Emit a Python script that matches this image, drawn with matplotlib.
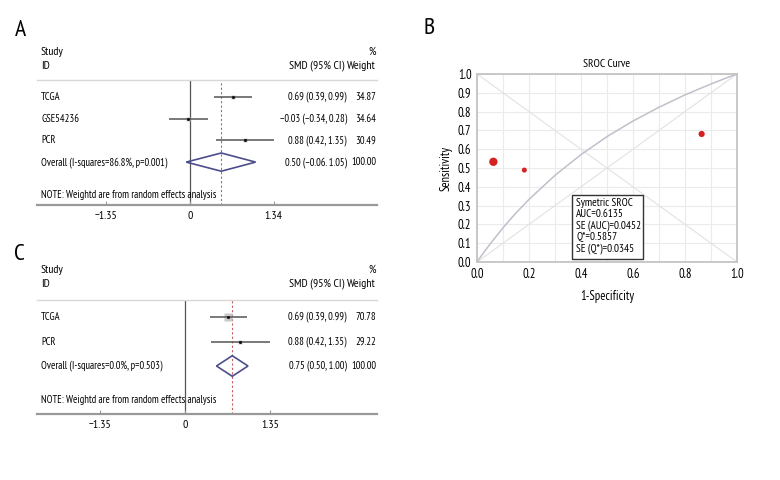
import numpy as np
import matplotlib
matplotlib.use("Agg")
import matplotlib.pyplot as plt
import matplotlib.transforms as mtransforms
from matplotlib.patches import Polygon, Rectangle

plt.rcParams['font.family'] = ['PT Sans Narrow', 'DejaVu Sans']

W, H = 780, 480

# panel A
a_studies = ["TCGA", "GSE54236", "PCR"]
a_smd = [0.69, -0.03, 0.88]
a_low = [0.39, -0.34, 0.42]
a_high = [0.99, 0.28, 1.35]
a_weight = [34.87, 34.64, 30.49]
a_overall = [0.50, -0.06, 1.05]
a_overall_label = "Overall (I-squares=86.8%, p=0.001)"
a_overall_text = "0.50 (\u22120.06. 1.05)"
a_ticks = [-1.35, 0, 1.34]

# panel C
c_studies = ["TCGA", "PCR"]
c_smd = [0.69, 0.88]
c_low = [0.39, 0.42]
c_high = [0.99, 1.35]
c_weight = [70.78, 29.22]
c_overall = [0.75, 0.50, 1.00]
c_overall_label = "Overall (I-squares=0.0%, p=0.503)"
c_overall_text = "0.75 (0.50, 1.00)"
c_ticks = [-1.35, 0, 1.35]

note = "NOTE: Weightd are from random effects analysis"

# panel B
sroc_fpr = [0.0, 0.005, 0.01, 0.02, 0.05, 0.1, 0.15, 0.2, 0.3, 0.4, 0.5, 0.6, 0.7, 0.8, 0.9, 0.95, 1.0]
sroc_sens = [0.0, 0.010, 0.020, 0.039, 0.095, 0.182, 0.261, 0.333, 0.461, 0.571, 0.667, 0.750, 0.823, 0.889, 0.947, 0.974, 1.0]
study_fpr = [0.063, 0.182, 0.864]
study_sens = [0.533, 0.489, 0.681]
study_size = [36, 13, 20]
sroc_stats = ["Symetric SROC", "AUC=0.6135", "SE (AUC)=0.0452", "Q*=0.5857", "SE (Q*)=0.0345"]

fig = plt.figure(figsize=(W / 100, H / 100), dpi=100)


def fx(px):
    return px / W


def fy(py):
    return 1 - py / H


def axes_px(l, t, r, b):
    return fig.add_axes([l / W, 1 - b / H, (r - l) / W, (b - t) / H])


def fmt(v):
    return f"{v:.2f}".replace("-", "\u2212")


def forest(top, bottom, zero, scale, first_row, step, studies, smd, low, high, weight,
           overall, overall_label, overall_text, ticks, note_px, head_top):
    left, right = 37, 377
    ax = axes_px(left, top, right, bottom)
    ax.set_xlim((left - zero) / scale, (right - zero) / scale)
    n = len(studies)
    ax.set_ylim(1 + (bottom - first_row) / step, 1 - (first_row - top) / step)
    rows = np.arange(1, n + 1)
    ax.hlines(rows, low, high, color='#555555', lw=1.1, zorder=3)
    for x, y, w in zip(smd, rows, weight):
        ax.plot(x, y, 's', color='#c8c8c8', ms=0.6 * np.sqrt(w), mec='none', zorder=2)
    ax.plot(smd, rows, 'o', color='#111111', ms=2.2, mec='none', zorder=4)
    yo = n + 1
    dh = 0.42
    est, lo, hi = overall
    ax.add_patch(Polygon([(lo, yo), (est, yo - dh), (hi, yo), (est, yo + dh)],
                         closed=True, fill=False, ec='#4d4d8c', lw=1.2, zorder=4))
    ax.axvline(0, color='#555555', lw=0.9, zorder=1)
    ax.axvline(est, color='#c06060', lw=0.8, ls=(0, (2, 2)), zorder=1)

    for s in ['left', 'right']:
        ax.spines[s].set_visible(False)
    ax.spines['top'].set_color('#d8d8d8')
    ax.spines['top'].set_linewidth(1.0)
    ax.spines['bottom'].set_color('#999999')
    ax.spines['bottom'].set_linewidth(1.6)
    ax.set_yticks([])
    ax.set_xticks(ticks)
    ax.set_xticklabels([fmt(t) if t != 0 else "0" for t in ticks])
    ax.tick_params(axis='x', direction='in', length=3, color='#999999', labelsize=8.5, pad=4)
    ax.patch.set_alpha(0)

    tr = mtransforms.blended_transform_factory(fig.transFigure, ax.transData)
    fs = 7.6
    for i, name in enumerate(studies):
        y = i + 1
        ax.text(fx(41), y, name, transform=tr, fontsize=fs, va='center', ha='left')
        ax.text(fx(347), y, f"{fmt(smd[i])} ({fmt(low[i])}, {fmt(high[i])})",
                transform=tr, fontsize=fs, va='center', ha='right')
        ax.text(fx(376), y, f"{weight[i]:.2f}", transform=tr, fontsize=fs, va='center', ha='right')
    ax.text(fx(41), yo, overall_label, transform=tr, fontsize=fs, va='center', ha='left')
    ax.text(fx(347), yo, overall_text, transform=tr, fontsize=fs, va='center', ha='right')
    ax.text(fx(376), yo, "100.00", transform=tr, fontsize=fs, va='center', ha='right')
    fig.text(fx(41), fy(note_px), note, fontsize=fs, va='center', ha='left')

    fs_h = 8.5
    fig.text(fx(41), fy(head_top), "Study", fontsize=fs_h, va='center', ha='left')
    fig.text(fx(41), fy(head_top + 14), "ID", fontsize=fs_h, va='center', ha='left')
    fig.text(fx(376), fy(head_top), "%", fontsize=fs_h, va='center', ha='right')
    fig.text(fx(344), fy(head_top + 14), "SMD (95% CI)", fontsize=fs_h, va='center', ha='right')
    fig.text(fx(376), fy(head_top + 14), "Weight", fontsize=fs_h, va='center', ha='right')
    return ax


forest(80, 205, 190, 62.5, 97, 21.7, a_studies, a_smd, a_low, a_high, a_weight,
       a_overall, a_overall_label, a_overall_text, a_ticks, 195, 52)
forest(300, 414, 185, 63.0, 317, 24.5, c_studies, c_smd, c_low, c_high, c_weight,
       c_overall, c_overall_label, c_overall_text, c_ticks, 400, 270)

# panel B
ax = axes_px(477, 74, 737, 262)
ax.set_xlim(0, 1)
ax.set_ylim(0, 1)
ax.set_xticks(np.arange(0, 1.01, 0.2))
ax.set_xticks(np.arange(0, 1.01, 0.1), minor=True)
ax.set_yticks(np.arange(0, 1.01, 0.1))
ax.grid(True, which='both', color='#ebebeb', lw=0.8)
ax.set_axisbelow(True)
ax.plot([0, 1], [1, 0], color='#e2e2e2', lw=0.8)
ax.plot([0, 1], [0, 1], color='#e2e2e2', lw=0.8)
ax.plot(sroc_fpr, sroc_sens, color='#c0c0cc', lw=1.1)
ax.scatter(study_fpr, study_sens, s=study_size, color='#d42222', edgecolors='none', zorder=5)
ax.xaxis.set_major_formatter(matplotlib.ticker.FormatStrFormatter('%.1f'))
ax.yaxis.set_major_formatter(matplotlib.ticker.FormatStrFormatter('%.1f'))
ax.tick_params(which='both', length=0, labelsize=9, pad=4)
for s in ax.spines.values():
    s.set_color('#c4c4c4')
    s.set_linewidth(1.3)
ax.set_title("SROC Curve", fontsize=8.5, pad=5)
ax.set_xlabel("1-Specificity", fontsize=9, labelpad=7)
ax.set_ylabel("Sensitivity", fontsize=9, labelpad=4)
ax.add_patch(Rectangle((0.364, 0.016), 0.273, 0.340, fill=True, fc='white',
                       ec='#333333', lw=1.0, zorder=6))
ax.text(0.381, 0.338, "\n".join(sroc_stats), fontsize=8, va='top', ha='left',
        linespacing=1.12, zorder=7)

fig.text(fx(20.5), fy(30.5), "A", fontsize=17, ha='center', va='center')
fig.text(fx(429.5), fy(29), "B", fontsize=17, ha='center', va='center')
fig.text(fx(19.5), fy(254), "C", fontsize=17, ha='center', va='center')

fig.savefig("out.png", dpi=100)
